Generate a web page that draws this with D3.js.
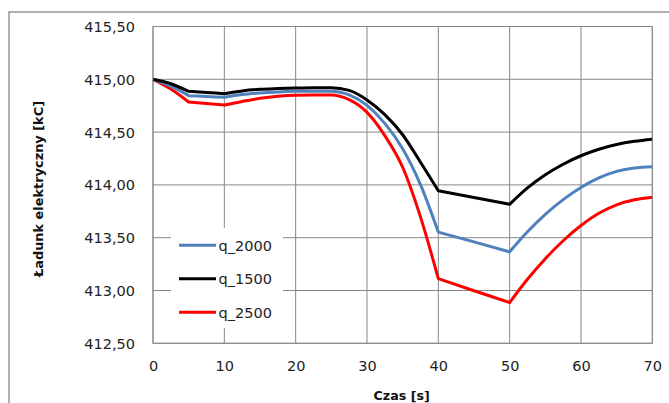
<!DOCTYPE html>
<html><head><meta charset="utf-8">
<script src="https://cdn.jsdelivr.net/npm/d3@7"></script>
<style>body{margin:0;background:#fff}svg{display:block}</style>
</head><body>
<script>
const times = [0,2.5,5,7.5,10,12.5,15,17.5,20,22.5,25,27.5,30,32.5,35,37.5,40,45,50,52.5,55,57.5,60,62.5,65,67.5,70];
const q2000 = [415.000,414.935,414.845,414.837,414.829,414.855,414.870,414.880,414.886,414.888,414.888,414.853,414.753,414.583,414.343,414.003,413.553,413.460,413.366,413.556,413.721,413.861,413.976,414.066,414.128,414.161,414.173];
const q1500 = [415.000,414.958,414.886,414.875,414.864,414.890,414.905,414.912,414.917,414.920,414.920,414.895,414.805,414.665,414.475,414.215,413.945,413.880,413.816,413.971,414.096,414.196,414.276,414.338,414.383,414.413,414.433];
const q2500 = [415.000,414.908,414.785,414.770,414.756,414.790,414.820,414.840,414.850,414.852,414.852,414.807,414.687,414.467,414.167,413.697,413.112,412.998,412.886,413.106,413.301,413.471,413.616,413.731,413.811,413.859,413.883];
const kinks = [0,5,10,40,50,70];
const xTicks = [0,10,20,30,40,50,60,70];
const yTicks = [412.5,413.0,413.5,414.0,414.5,415.0,415.5];
const seriesNames = ["q_2000","q_1500","q_2500"];
const seriesValues = [q2000,q1500,q2500];
const seriesColors = ["#4F81BD","#000000","#FF0000"];
const drawOrder = [2,0,1];

const W=669,H=403;
const svg=d3.select("body").append("svg").attr("width",W).attr("height",H);
const L=153,R=652.3,T=26.5,B=343.3;
const x=d3.scaleLinear().domain([0,70]).range([L,R]);
const y=d3.scaleLinear().domain([412.5,415.5]).range([B,T]);
const grid="#878787";
const font="DejaVu Sans";

// outer frame
svg.append("rect").attr("x",9).attr("y",12).attr("width",W).attr("height",H)
  .attr("fill","none").attr("stroke",grid).attr("stroke-width",1.3);

// gridlines
const g=svg.append("g");
g.selectAll(".hg").data(yTicks).enter().append("line")
  .attr("x1",L).attr("x2",R).attr("y1",d=>y(d)).attr("y2",d=>y(d))
  .attr("stroke",grid).attr("stroke-width",1);
g.selectAll(".vg").data(xTicks).enter().append("line")
  .attr("y1",T).attr("y2",B).attr("x1",d=>x(d)).attr("x2",d=>x(d))
  .attr("stroke",grid).attr("stroke-width",1);

// axes labels via d3 axes
const yAxis=d3.axisLeft(y).tickValues(yTicks).tickSize(0).tickPadding(18)
  .tickFormat(d=>d3.format(".2f")(d).replace(".",","));
const ya=svg.append("g").attr("transform",`translate(${L},0)`).call(yAxis);
ya.select(".domain").remove();
ya.selectAll("text").attr("font-family",font).attr("font-size",14.5).attr("fill","#222").attr("dy","0.35em");

const xAxis=d3.axisBottom(x).tickValues(xTicks).tickSize(0).tickPadding(17).tickFormat(d3.format("d"));
const xa=svg.append("g").attr("transform",`translate(0,${B})`).call(xAxis);
xa.select(".domain").remove();
xa.selectAll("text").attr("font-family",font).attr("font-size",14.5).attr("fill","#222");

// titles
svg.append("text").attr("x",401.7).attr("y",399.5).attr("text-anchor","middle")
  .attr("font-family",font).attr("font-weight","bold").attr("font-size",12.7).attr("fill","#111").text("Czas [s]");
svg.append("text").attr("transform","translate(42.5,189) rotate(-90)").attr("text-anchor","middle")
  .attr("font-family",font).attr("font-weight","bold").attr("font-size",12.9).attr("fill","#111").text("Ładunk elektryczny [kC]");

// series: piecewise smooth between kinks
function pathFor(vals){
  const pts=times.map((t,i)=>[t,vals[i]]);
  const line=d3.line().x(d=>x(d[0])).y(d=>y(d[1])).curve(d3.curveMonotoneX);
  let s="";
  for(let k=0;k<kinks.length-1;k++){
    const seg=pts.filter(p=>p[0]>=kinks[k]&&p[0]<=kinks[k+1]);
    const p=line(seg);
    s+= k===0 ? p : "L"+p.slice(1);
  }
  return s;
}
drawOrder.forEach(i=>{
  svg.append("path").attr("d",pathFor(seriesValues[i])).attr("fill","none")
    .attr("stroke",seriesColors[i]).attr("stroke-width",3).attr("stroke-linejoin","round");
});

// plot frame
svg.append("rect").attr("x",L).attr("y",T).attr("width",R-L).attr("height",B-T)
  .attr("fill","none").attr("stroke",grid).attr("stroke-width",1);

// legend
const lg=svg.append("g");
lg.append("rect").attr("x",171).attr("y",228).attr("width",112).attr("height",100).attr("fill","#fff");
seriesNames.forEach((n,i)=>{
  const yy=245.3+i*33.5;
  lg.append("line").attr("x1",179).attr("x2",216).attr("y1",yy).attr("y2",yy)
    .attr("stroke",seriesColors[i]).attr("stroke-width",3);
  lg.append("text").attr("x",218.5).attr("y",yy).attr("dy","0.36em")
    .attr("font-family",font).attr("font-size",14.5).attr("fill","#222").text(n);
});
</script>
</body></html>
